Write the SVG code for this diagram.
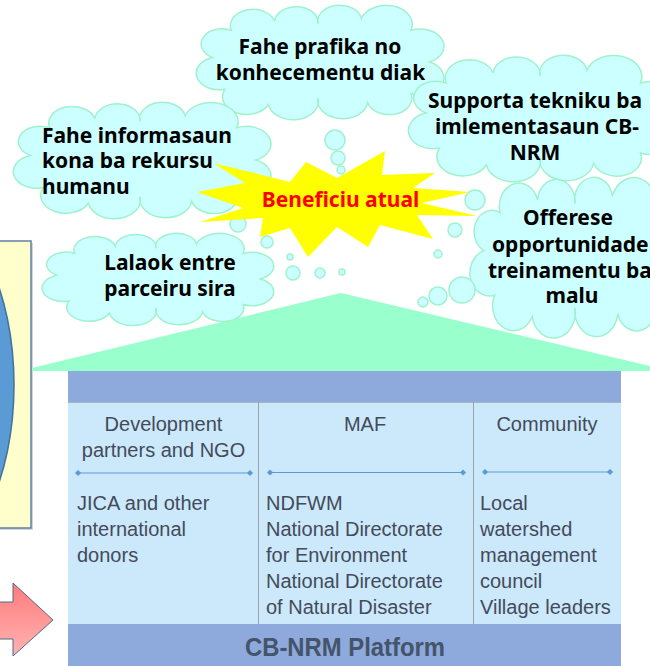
<svg xmlns="http://www.w3.org/2000/svg" width="650" height="666" viewBox="0 0 650 666">
<defs>
<style>
.cloud{fill:#CCFFFF;stroke:#9FF2CC;stroke-width:1.5;vector-effect:non-scaling-stroke}
.bub{fill:#CCFFFF;stroke:#9FF2CC;stroke-width:1.5}
.ct{font-family:"Noto Sans","Liberation Sans",sans-serif;font-weight:700;font-size:21px;fill:#000}
.cell{font-family:"Liberation Sans",Arial,sans-serif;font-size:20px;fill:#434B5A}
.sep{stroke:#5B9BD5;stroke-width:1.2;fill:none;marker-start:url(#dia);marker-end:url(#dia)}
</style>
<path id="cloudShape" class="cloud" d="M -85,-5 A 1 1 0 0 1 -70,-35 A 1 1 0 0 1 -35,-45 A 1 1 0 0 1 0,-42 A 1 1 0 0 1 35,-48 A 1 1 0 0 1 75,-35 A 1 1 0 0 1 90,0 A 1 1 0 0 1 75,35 A 1 1 0 0 1 40,45 A 1 1 0 0 1 0,40 A 1 1 0 0 1 -40,47 A 1 1 0 0 1 -75,30 A 1 1 0 0 1 -85,-5 Z"/>
<marker id="dia" viewBox="-4 -4 8 8" markerWidth="7" markerHeight="7" refX="0" refY="0" markerUnits="userSpaceOnUse">
<path d="M -3.5,0 L 0,-3.5 L 3.5,0 L 0,3.5 Z" fill="#5B9BD5"/>
</marker>
<linearGradient id="arrowGrad" x1="0" y1="0" x2="0" y2="1">
<stop offset="0" stop-color="#FF7B7B"/>
<stop offset="1" stop-color="#FFB3B3"/>
</linearGradient>
</defs>

<!-- left partial box -->
<g id="left-box">
<rect x="-6" y="243" width="39" height="287" fill="#9AA3AE" opacity="0.45"/>
<rect x="-6" y="241" width="37" height="287" fill="#FFFFCC" stroke="#5F7FA3" stroke-width="1.5"/>
<ellipse cx="-80" cy="385" rx="94" ry="180" fill="#5B9BD5" stroke="#41719C" stroke-width="1.5"/>
</g>

<!-- red arrow -->
<g id="arrow">
<polygon points="-6,602 13,602 13,583 53,620 13,656 13,639 -6,639" fill="url(#arrowGrad)" stroke="#4F6A8A" stroke-width="1"/>
</g>

<!-- roof -->
<g id="roof">
<polygon points="32,371 32,368 341,293 650,366 650,371" fill="#99FFCC"/>
</g>

<!-- platform -->
<g id="platform">
<rect x="68" y="371" width="553" height="31" fill="#8EA9DB"/>
<rect x="68" y="402" width="553" height="222" fill="#CCE8FB"/>
<line x1="68" y1="402.5" x2="621" y2="402.5" stroke="#A9B4C2" stroke-width="1"/>
<line x1="258.5" y1="402" x2="258.5" y2="624" stroke="#9AA2AC" stroke-width="1"/>
<line x1="473.5" y1="402" x2="473.5" y2="624" stroke="#9AA2AC" stroke-width="1"/>
<rect x="68" y="624" width="553" height="42" fill="#8EA9DB"/>
<text x="345" y="656" text-anchor="middle" font-family="Liberation Sans, Arial, sans-serif" font-weight="700" font-size="26" fill="#44546A" textLength="200" lengthAdjust="spacingAndGlyphs">CB-NRM Platform</text>
</g>

<g id="col-dev">
<text class="cell" x="163.5" y="431" text-anchor="middle">Development</text>
<text class="cell" x="163.5" y="457" text-anchor="middle">partners and NGO</text>
<text class="cell" x="77" y="510">JICA and other</text>
<text class="cell" x="77" y="536">international</text>
<text class="cell" x="77" y="562">donors</text>
</g>
<g id="col-maf">
<text class="cell" x="365" y="431" text-anchor="middle">MAF</text>
<text class="cell" x="266" y="510">NDFWM</text>
<text class="cell" x="266" y="536">National Directorate</text>
<text class="cell" x="266" y="562">for Environment</text>
<text class="cell" x="266" y="588">National Directorate</text>
<text class="cell" x="266" y="614">of Natural Disaster</text>
</g>
<g id="col-community">
<text class="cell" x="547" y="431" text-anchor="middle">Community</text>
<text class="cell" x="480" y="510">Local</text>
<text class="cell" x="480" y="536">watershed</text>
<text class="cell" x="480" y="562">management</text>
<text class="cell" x="480" y="588">council</text>
<text class="cell" x="480" y="614">Village leaders</text>
</g>

<g id="connectors">
<line class="sep" x1="78" y1="473" x2="250" y2="473"/>
<line class="sep" x1="270" y1="472.5" x2="463" y2="472.5"/>
<line class="sep" x1="485" y1="472" x2="610" y2="472"/>
</g>

<!-- clouds -->
<g id="cloud-prafika"><use href="#cloudShape" transform="translate(318,62) scale(1.24,0.905)"/></g>
<g id="cloud-supporta"><use href="#cloudShape" transform="translate(540,118) scale(1.34,1.0)"/></g>
<g id="cloud-informasaun"><use href="#cloudShape" transform="translate(140,160) scale(1.29,0.92)"/></g>
<g id="cloud-lalaok"><use href="#cloudShape" transform="translate(156,279) scale(1.16,0.73)"/></g>
<g id="cloud-offerese"><use href="#cloudShape" transform="translate(575,257) scale(1.07,1.27)"/></g>

<g id="bubbles">
<circle class="bub" cx="335" cy="140" r="10"/>
<circle class="bub" cx="338" cy="158" r="7"/>
<circle class="bub" cx="341" cy="170" r="4"/>
<circle class="bub" cx="238" cy="224" r="8"/>
<circle class="bub" cx="267" cy="242" r="6"/>
<circle class="bub" cx="290" cy="257" r="3"/>
<circle class="bub" cx="293" cy="273" r="7"/>
<circle class="bub" cx="320" cy="273" r="5"/>
<circle class="bub" cx="342" cy="272" r="3"/>
<circle class="bub" cx="475" cy="200" r="10"/>
<circle class="bub" cx="455" cy="230" r="7"/>
<circle class="bub" cx="438" cy="254" r="4"/>
<circle class="bub" cx="462" cy="290" r="13"/>
<circle class="bub" cx="438" cy="296" r="9"/>
<circle class="bub" cx="423" cy="302" r="5"/>
</g>

<!-- star -->
<g id="star">
<polygon points="213,163 290,182 306,162 337,178 385,151 382,175 435,173 413,188 470,192 422,203 477,216 417,215 433,239 380,225 368,247 337,227 308,257 290,228 260,237 263,218 200,222 243,208 197,192 245,183" fill="#FFFF00"/>
<text x="340.5" y="207" text-anchor="middle" class="ct" style="fill:#FF0000">Beneficiu atual</text>
</g>

<!-- cloud texts -->
<g id="text-prafika">
<text class="ct" x="320" y="54" text-anchor="middle">Fahe prafika no</text>
<text class="ct" x="320.5" y="80" text-anchor="middle">konhecementu diak</text>
</g>
<g id="text-supporta">
<text class="ct" x="535" y="108" text-anchor="middle">Supporta tekniku ba</text>
<text class="ct" x="537" y="134" text-anchor="middle">imlementasaun CB-</text>
<text class="ct" x="535" y="160" text-anchor="middle">NRM</text>
</g>
<g id="text-informasaun">
<text class="ct" x="42" y="143">Fahe informasaun</text>
<text class="ct" x="42" y="168">kona ba rekursu</text>
<text class="ct" x="42" y="194">humanu</text>
</g>
<g id="text-lalaok">
<text class="ct" x="170" y="270" text-anchor="middle">Lalaok entre</text>
<text class="ct" x="170" y="296" text-anchor="middle">parceiru sira</text>
</g>
<g id="text-offerese">
<text class="ct" x="568" y="225" text-anchor="middle">Offerese</text>
<text class="ct" x="492" y="252">opportunidade</text>
<text class="ct" x="488" y="278">treinamentu ba</text>
<text class="ct" x="572" y="303" text-anchor="middle">malu</text>
</g>
</svg>
